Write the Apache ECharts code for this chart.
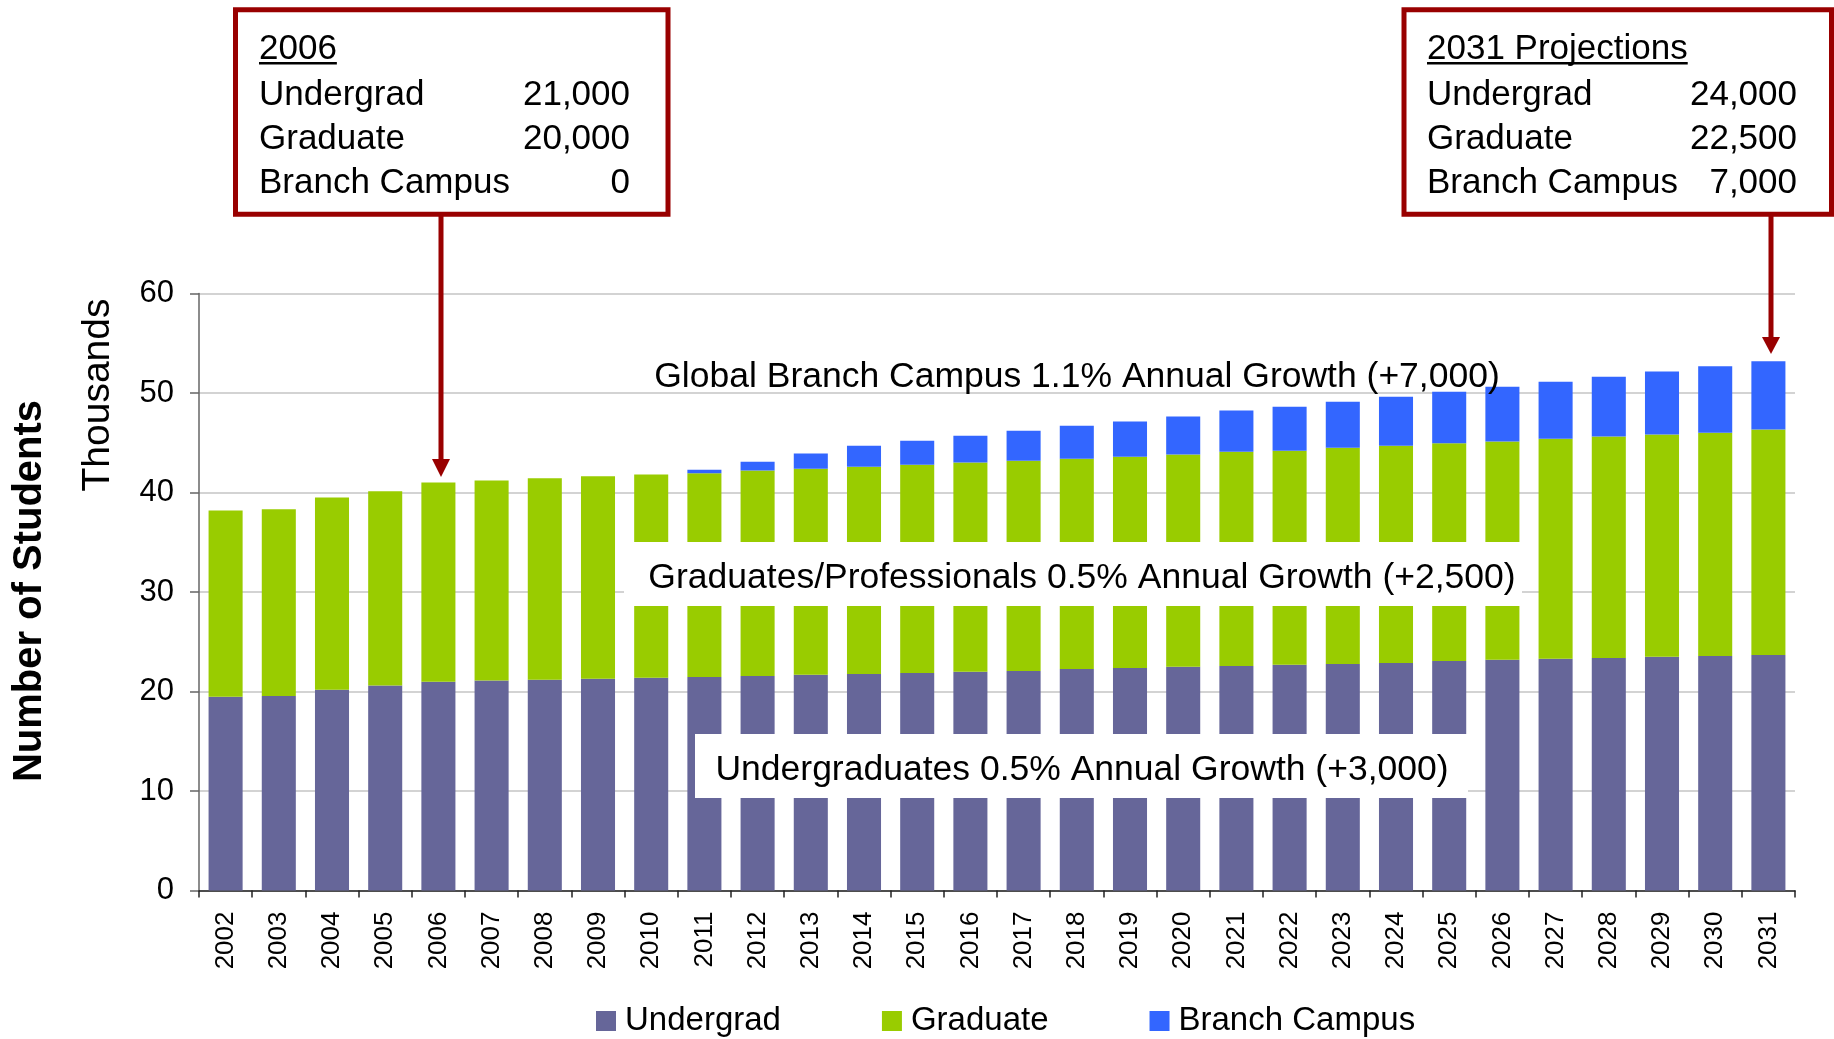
<!DOCTYPE html>
<html><head><meta charset="utf-8">
<script src="https://cdn.jsdelivr.net/npm/echarts@6/dist/echarts.min.js"></script>
<style>html,body{margin:0;padding:0;background:#fff}#c{width:1834px;height:1039px}</style>
</head><body><div id="c"></div>
<script>
// ---- data (thousands of students) ----
const years = ['2002','2003','2004','2005','2006','2007','2008','2009','2010','2011','2012','2013','2014','2015','2016','2017','2018','2019','2020','2021','2022','2023','2024','2025','2026','2027','2028','2029','2030','2031'];
const undergrad = [19.48,19.56,20.18,20.60,20.99,21.10,21.18,21.29,21.37,21.45,21.56,21.68,21.76,21.87,21.99,22.06,22.26,22.37,22.49,22.57,22.68,22.76,22.87,23.07,23.18,23.30,23.37,23.49,23.57,23.68];
const graduate = [18.72,18.75,19.33,19.52,20.02,20.10,20.25,20.34,20.45,20.48,20.64,20.71,20.83,20.91,21.02,21.14,21.14,21.22,21.33,21.52,21.52,21.75,21.84,21.87,21.95,22.10,22.26,22.33,22.44,22.64];
const branch = [0,0,0,0,0,0,0,0,0,0.35,0.89,1.54,2.12,2.43,2.70,3.01,3.31,3.54,3.81,4.16,4.43,4.62,4.92,5.19,5.51,5.74,6.01,6.35,6.67,6.86];
const seriesNames = ['Undergrad','Graduate','Branch Campus'];
const yMin = 0, yMax = 60, yStep = 10;

const growthLabels = ['Global Branch Campus 1.1% Annual Growth (+7,000)','Graduates/Professionals 0.5% Annual Growth (+2,500)','Undergraduates 0.5% Annual Growth (+3,000)'];
const boxLeftTitle = '2006';
const boxRightTitle = '2031 Projections';
const boxRowLabels = ['Undergrad','Graduate','Branch Campus'];
const boxLeftValues = ['21,000','20,000','0'];
const boxRightValues = ['24,000','22,500','7,000'];
const yTitle = 'Number of Students';
const yUnit = 'Thousands';

// ---- styles ----
const FONT = '"Liberation Sans", Arial, Helvetica, sans-serif';
const RED = '#990000';
const colors = ['#666699','#99CC00','#3366FF'];

const ctx = document.createElement('canvas').getContext('2d');
function tw(str, size){ ctx.font = size + 'px ' + FONT; return ctx.measureText(str).width; }

const boxFont = 35;
function boxGraphics(x0, xr, title, values){
  const els = [];
  const bases = [61.5, 107.3, 151.3, 195.7];
  const mid = b => b - 0.3465*boxFont;
  els.push({type:'text', x:x0, y:mid(bases[0]), style:{text:title, fontSize:boxFont, fontFamily:FONT, fill:'#000', align:'left', verticalAlign:'middle'}});
  els.push({type:'rect', shape:{x:x0, y:62, width:tw(title, boxFont), height:2.5}, style:{fill:'#000'}});
  for (let i=0;i<3;i++){
    els.push({type:'text', x:x0, y:mid(bases[i+1]), style:{text:boxRowLabels[i], fontSize:boxFont, fontFamily:FONT, fill:'#000', align:'left', verticalAlign:'middle'}});
    els.push({type:'text', x:xr, y:mid(bases[i+1]), style:{text:values[i], fontSize:boxFont, fontFamily:FONT, fill:'#000', align:'right', verticalAlign:'middle'}});
  }
  return els;
}

const labFont = 35.5;
const labMid = b => b - 0.3465*labFont;

const graphics = [
  // axis titles
  {type:'text', x:30, y:591, rotation:Math.PI/2, style:{text:yTitle, fontSize:40, fontWeight:'bold', fontFamily:FONT, fill:'#000', align:'center', verticalAlign:'middle'}},
  {type:'text', x:98, y:395, rotation:Math.PI/2, style:{text:yUnit, fontSize:39, fontFamily:FONT, fill:'#000', align:'center', verticalAlign:'middle'}},
  // growth labels
  {type:'text', x:1077, y:labMid(390), style:{text:growthLabels[0], fontSize:labFont, fontFamily:FONT, fill:'#000', align:'center', verticalAlign:'middle'}},
  {type:'rect', shape:{x:624, y:542, width:898, height:64}, style:{fill:'#fff'}},
  {type:'text', x:1082, y:labMid(591), style:{text:growthLabels[1], fontSize:labFont, fontFamily:FONT, fill:'#000', align:'center', verticalAlign:'middle'}},
  {type:'rect', shape:{x:695, y:734, width:773, height:64}, style:{fill:'#fff'}},
  {type:'text', x:1082, y:labMid(783), style:{text:growthLabels[2], fontSize:labFont, fontFamily:FONT, fill:'#000', align:'center', verticalAlign:'middle'}},
  // annotation boxes
  {type:'rect', shape:{x:235.5, y:9.8, width:432.5, height:204.4}, style:{fill:'#fff', stroke:RED, lineWidth:5}},
  {type:'rect', shape:{x:1404, y:9.8, width:427.5, height:204.4}, style:{fill:'#fff', stroke:RED, lineWidth:5}},
  ...boxGraphics(259, 630, boxLeftTitle, boxLeftValues),
  ...boxGraphics(1427, 1797, boxRightTitle, boxRightValues),
  // arrows
  {type:'line', shape:{x1:441, y1:216, x2:441, y2:462}, style:{stroke:RED, lineWidth:5}},
  {type:'polygon', shape:{points:[[432,459],[450,459],[441,477]]}, style:{fill:RED}},
  {type:'line', shape:{x1:1771, y1:216, x2:1771, y2:340}, style:{stroke:RED, lineWidth:5}},
  {type:'polygon', shape:{points:[[1762,337],[1780,337],[1771,354]]}, style:{fill:RED}}
].map(e => Object.assign({z:100}, e));

const chart = echarts.init(document.getElementById('c'), null, {renderer:'canvas'});
chart.setOption({
  animation:false,
  backgroundColor:'#fff',
  color:colors,
  grid:{left:199, right:39, top:293.5, bottom:148.5},
  legend:{
    data:seriesNames, left:591, top:998, itemWidth:20, itemHeight:20, itemGap:101, icon:'rect', padding:5,
    textStyle:{fontSize:33, fontFamily:FONT, color:'#000', padding:[0,0,0,4], lineHeight:36}
  },
  xAxis:{
    type:'category', data:years,
    axisLine:{lineStyle:{color:'#222', width:1.5}},
    axisTick:{show:true, length:7, lineStyle:{color:'#222', width:1.5}},
    axisLabel:{rotate:90, fontSize:26, fontFamily:FONT, color:'#000', margin:21, interval:0}
  },
  yAxis:{
    type:'value', min:yMin, max:yMax, interval:yStep,
    axisLine:{show:true, lineStyle:{color:'#666', width:1.5}},
    axisTick:{show:true, length:9, lineStyle:{color:'#666', width:1.5}},
    axisLabel:{fontSize:31, fontFamily:FONT, color:'#000', margin:25},
    splitLine:{show:true, lineStyle:{color:'#c4c4c4', width:1.5}}
  },
  series:[
    {name:seriesNames[0], type:'bar', stack:'t', data:undergrad, barWidth:'64%', itemStyle:{color:colors[0]}},
    {name:seriesNames[1], type:'bar', stack:'t', data:graduate, barWidth:'64%', itemStyle:{color:colors[1]}},
    {name:seriesNames[2], type:'bar', stack:'t', data:branch, barWidth:'64%', itemStyle:{color:colors[2]}}
  ],
  graphic:{elements:graphics}
});
</script></body></html>
